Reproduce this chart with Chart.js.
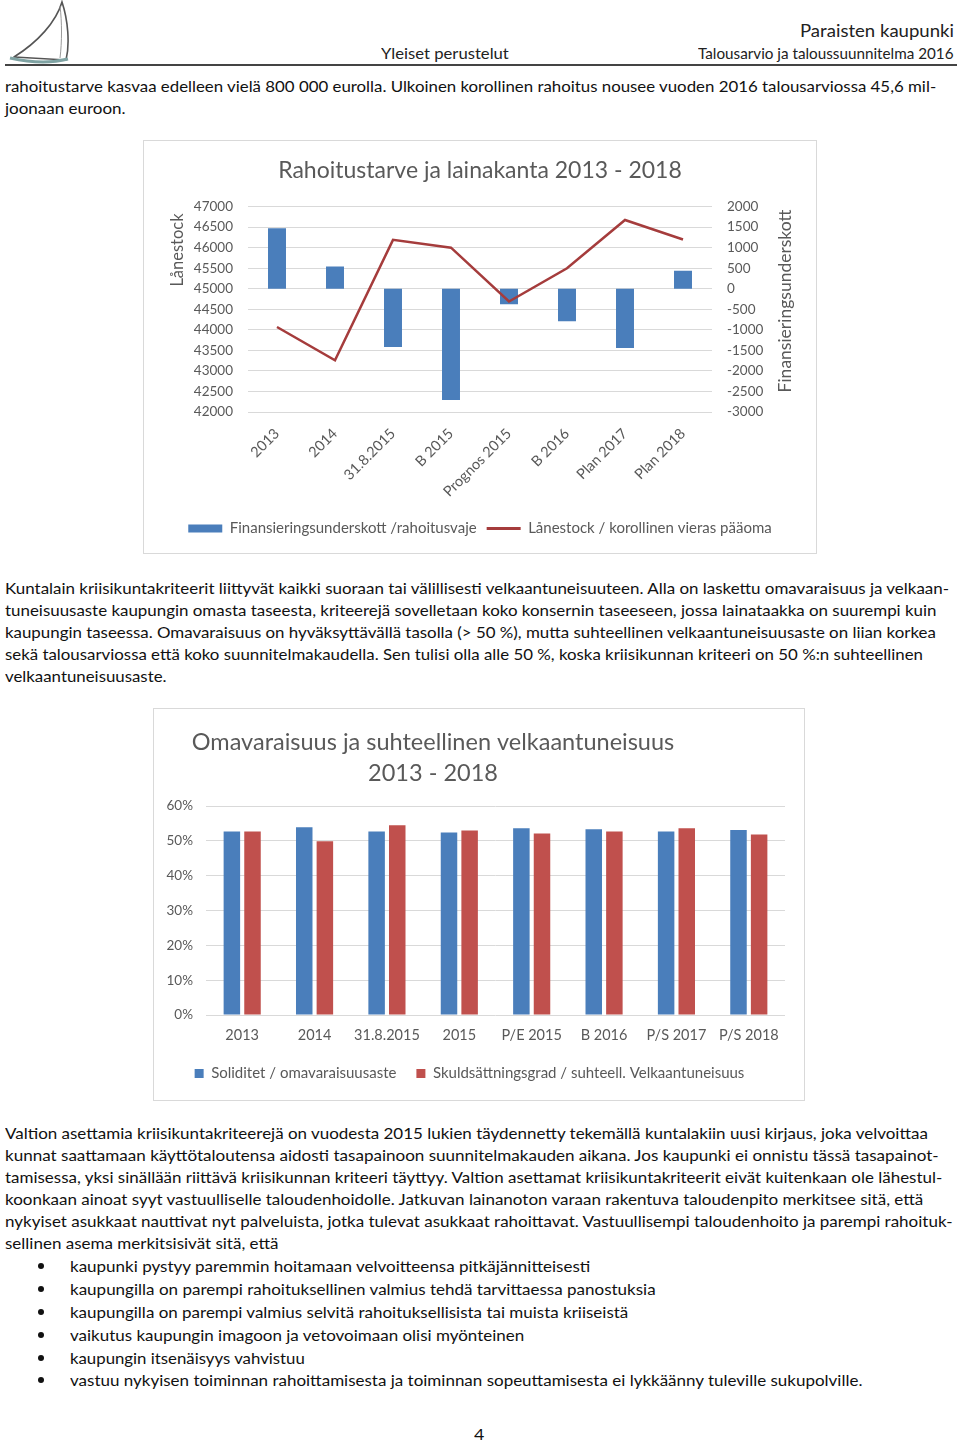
<!DOCTYPE html>
<html><head><meta charset="utf-8">
<script src="https://cdn.jsdelivr.net/npm/chart.js@4.4.0/dist/chart.umd.min.js"></script>
<style>
html,body{margin:0;padding:0;background:#fff;}
body{width:960px;height:1443px;position:relative;overflow:hidden;font-family:Lato,"Open Sans",sans-serif;color:#111;}
.t{position:absolute;white-space:nowrap;font-size:16px;line-height:22px;transform-origin:0 50%;}
.h{color:#222;}
.frame{position:absolute;border:1px solid #d9d9d9;box-sizing:border-box;background:#fff;}
.frame canvas{display:block;}
.bul{position:absolute;width:6px;height:6px;border-radius:50%;background:#111;}
#rule{position:absolute;left:5px;top:64px;width:952px;height:2px;background:#444;}
</style></head><body>

<svg style="position:absolute;left:4px;top:0" width="66" height="66" viewBox="0 0 66 66">
  <path d="M58,2 C52,22 34,42 10,57 C28,58 46,59 62,60 C66,44 64,20 58,2 Z" fill="#fff" stroke="#555" stroke-width="1.6"/>
  <path d="M56,6 C58,22 58,42 56,58" fill="none" stroke="#999" stroke-width="1"/>
  <path d="M6,58 C24,62 44,64 64,59" fill="none" stroke="#7fa3a3" stroke-width="3"/>
</svg>

<div class="t h" data-l="800" data-r="954" data-y="31" style="font-size:17px">Paraisten kaupunki</div>
<div class="t h" data-l="381" data-r="509" data-y="53">Yleiset perustelut</div>
<div class="t h" data-l="698" data-r="954" data-y="53" style="font-size:15px">Talousarvio ja taloussuunnitelma 2016</div>
<div id="rule"></div>

<div class="t" data-l="5" data-r="936" data-y="86">rahoitustarve kasvaa edelleen vielä 800 000 eurolla. Ulkoinen korollinen rahoitus nousee vuoden 2016 talousarviossa 45,6 mil-</div>
<div class="t" data-l="5" data-r="126" data-y="108">joonaan euroon.</div>

<div class="frame" style="left:143px;top:140px;width:674px;height:414px;"><canvas id="c1" width="672" height="412"></canvas></div>

<div class="t" data-l="5" data-r="949" data-y="588">Kuntalain kriisikuntakriteerit liittyvät kaikki suoraan tai välillisesti velkaantuneisuuteen. Alla on laskettu omavaraisuus ja velkaan-</div>
<div class="t" data-l="5" data-r="937" data-y="610">tuneisuusaste kaupungin omasta taseesta, kriteerejä sovelletaan koko konsernin taseeseen, jossa lainataakka on suurempi kuin</div>
<div class="t" data-l="5" data-r="936" data-y="632">kaupungin taseessa. Omavaraisuus on hyväksyttävällä tasolla (&gt; 50 %), mutta suhteellinen velkaantuneisuusaste on liian korkea</div>
<div class="t" data-l="5" data-r="923" data-y="654">sekä talousarviossa että koko suunnitelmakaudella. Sen tulisi olla alle 50 %, koska kriisikunnan kriteeri on 50 %:n suhteellinen</div>
<div class="t" data-l="5" data-r="166" data-y="676">velkaantuneisuusaste.</div>

<div class="frame" style="left:153px;top:708px;width:652px;height:393px;"><canvas id="c2" width="650" height="391"></canvas></div>

<div class="t" data-l="5" data-r="928" data-y="1133">Valtion asettamia kriisikuntakriteerejä on vuodesta 2015 lukien täydennetty tekemällä kuntalakiin uusi kirjaus, joka velvoittaa</div>
<div class="t" data-l="5" data-r="939" data-y="1155">kunnat saattamaan käyttötaloutensa aidosti tasapainoon suunnitelmakauden aikana. Jos kaupunki ei onnistu tässä tasapainot-</div>
<div class="t" data-l="5" data-r="942" data-y="1177">tamisessa, yksi sinällään riittävä kriisikunnan kriteeri täyttyy. Valtion asettamat kriisikuntakriteerit eivät kuitenkaan ole lähestul-</div>
<div class="t" data-l="5" data-r="923" data-y="1199">koonkaan ainoat syyt vastuulliselle taloudenhoidolle. Jatkuvan lainanoton varaan rakentuva taloudenpito merkitsee sitä, että</div>
<div class="t" data-l="5" data-r="952" data-y="1221">nykyiset asukkaat nauttivat nyt palveluista, jotka tulevat asukkaat rahoittavat. Vastuullisempi taloudenhoito ja parempi rahoituk-</div>
<div class="t" data-l="5" data-r="279" data-y="1243">sellinen asema merkitsisivät sitä, että</div>

<div class="bul" style="left:38px;top:1263px"></div>
<div class="t" data-l="70" data-r="590" data-y="1266">kaupunki pystyy paremmin hoitamaan velvoitteensa pitkäjännitteisesti</div>
<div class="bul" style="left:38px;top:1286px"></div>
<div class="t" data-l="70" data-r="656" data-y="1289">kaupungilla on parempi rahoituksellinen valmius tehdä tarvittaessa panostuksia</div>
<div class="bul" style="left:38px;top:1309px"></div>
<div class="t" data-l="70" data-r="628" data-y="1312">kaupungilla on parempi valmius selvitä rahoituksellisista tai muista kriiseistä</div>
<div class="bul" style="left:38px;top:1332px"></div>
<div class="t" data-l="70" data-r="524" data-y="1335">vaikutus kaupungin imagoon ja vetovoimaan olisi myönteinen</div>
<div class="bul" style="left:38px;top:1355px"></div>
<div class="t" data-l="70" data-r="305" data-y="1358">kaupungin itsenäisyys vahvistuu</div>
<div class="bul" style="left:38px;top:1377px"></div>
<div class="t" data-l="70" data-r="862" data-y="1380">vastuu nykyisen toiminnan rahoittamisesta ja toiminnan sopeuttamisesta ei lykkäänny tuleville sukupolville.</div>

<div class="t" data-l="474" data-r="484" data-y="1434">4</div>

<script>
// ---------- Chart 1 data ----------
const categories1 = ['2013','2014','31.8.2015','B 2015','Prognos 2015','B 2016','Plan 2017','Plan 2018'];
const deficit = [1470, 540, -1420, -2710, -380, -790, -1440, 440];
const loanStock = [44070, 43260, 46190, 46000, 44690, 45500, 46675, 46200];
const leftTicks = {min: 42000, max: 47000, step: 500};
const rightTicks = {min: -3000, max: 2000, step: 500};

// ---------- Chart 2 data ----------
const categories2 = ['2013','2014','31.8.2015','2015','P/E 2015','B 2016','P/S 2017','P/S 2018'];
const solidity = [52.7, 53.9, 52.7, 52.4, 53.6, 53.3, 52.7, 53.1];
const debtRatio = [52.7, 49.9, 54.5, 53.0, 52.1, 52.7, 53.6, 51.8];
const pctTicks = {min: 0, max: 60, step: 10};

const GRAY = '#595959', GRID = '#d9d9d9', BLUE = '#4a7ebb', RED = '#c0504d', LINE = '#a53c3c';

function fitText(){
  document.querySelectorAll('.t').forEach(el=>{
    const l=+el.dataset.l, r=+el.dataset.r, y=+el.dataset.y;
    el.style.left=l+'px'; el.style.top=(y-11)+'px';
    const w=el.scrollWidth;
    el.style.transform='scaleX('+((r-l)/w)+')';
  });
}

function draw(){
  Chart.defaults.font.family = 'Lato, "Open Sans", sans-serif';
  Chart.defaults.color = GRAY;

  const axisTitles1 = {id:'axisTitles1', afterDraw(chart){
    const ctx = chart.ctx; ctx.save();
    ctx.fillStyle = GRAY; ctx.font = '16.5px Lato'; ctx.textAlign='center'; ctx.textBaseline='middle';
    ctx.translate(34,109); ctx.rotate(-Math.PI/2); ctx.fillText('Lånestock',0,0); ctx.restore();
    ctx.save(); ctx.fillStyle = GRAY; ctx.font = '17.5px Lato'; ctx.textAlign='center'; ctx.textBaseline='middle';
    ctx.translate(641,160); ctx.rotate(-Math.PI/2); ctx.fillText('Finansieringsunderskott',0,0); ctx.restore();
  }};

  const pad1 = 7;
  new Chart(document.getElementById('c1'), {
    data: { labels: categories1, datasets: [
      {type:'bar', label:'Finansieringsunderskott /rahoitusvaje', data: deficit, yAxisID:'y1',
       backgroundColor: BLUE, order:1, barPercentage:0.31, categoryPercentage:1},
      {type:'line', label:'Lånestock / korollinen vieras pääoma', data: loanStock, yAxisID:'y',
       borderColor: LINE, backgroundColor: LINE, borderWidth:2.5, pointRadius:0, order:0, tension:0}
    ]},
    options: {
      responsive:false, animation:false,
      layout:{padding:{top:0,left:0,right:0,bottom:pad1}},
      scales:{
        x:{grid:{display:false, drawTicks:false}, border:{display:false},
           ticks:{minRotation:45, maxRotation:45, padding:13, color:GRAY, font:{size:14.5}, autoSkip:false},
           afterFit(s){ s.height = 412 - 271 - s.chart.legend.height - pad1; }},
        y:{position:'left', min:leftTicks.min, max:leftTicks.max,
           ticks:{stepSize:leftTicks.step, padding:15, color:GRAY, font:{size:13.5}, callback:v=>String(v)},
           grid:{color:GRID, drawTicks:false}, border:{display:false},
           afterFit(s){ s.width = 104; }},
        y1:{position:'right', min:rightTicks.min, max:rightTicks.max,
           ticks:{stepSize:rightTicks.step, padding:15, color:GRAY, font:{size:13.5}, callback:v=>String(v)},
           grid:{display:false, drawTicks:false}, border:{display:false},
           afterFit(s){ s.width = 104; }}
      },
      plugins:{
        title:{display:true, text:'Rahoitustarve ja lainakanta 2013 - 2018', color:GRAY,
               font:{size:23, weight:'normal'}, padding:{top:16, bottom:22}},
        legend:{position:'bottom', labels:{
          usePointStyle:true, pointStyleWidth:34, boxHeight:8, padding:10, color:GRAY, font:{size:15},
          sort:(a,b)=>a.datasetIndex-b.datasetIndex,
          generateLabels(chart){
            const items = Chart.defaults.plugins.legend.labels.generateLabels(chart);
            items.forEach(it=>{
              if(it.datasetIndex===0){ it.pointStyle='rect'; it.lineWidth=0; it.fillStyle=BLUE; it.strokeStyle=BLUE; }
              else { it.pointStyle='line'; it.lineWidth=3; it.strokeStyle=LINE; it.fillStyle=LINE; }
            });
            return items;
          }}},
        tooltip:{enabled:false}
      }
    },
    plugins:[axisTitles1]
  });

  const title2 = {id:'title2', afterDraw(chart){
    const ctx = chart.ctx; ctx.save();
    ctx.fillStyle = GRAY; ctx.font = '23.5px Lato'; ctx.textAlign='center'; ctx.textBaseline='middle';
    ctx.fillText('Omavaraisuus ja suhteellinen velkaantuneisuus', 279, 33);
    ctx.fillText('2013 - 2018', 279, 64);
    ctx.restore();
  }};

  const pad2 = 9;
  new Chart(document.getElementById('c2'), {
    type:'bar',
    data:{labels: categories2, datasets:[
      {label:'Soliditet / omavaraisuusaste', data: solidity, backgroundColor: BLUE, categoryPercentage:0.57, barPercentage:0.8},
      {label:'Skuldsättningsgrad / suhteell. Velkaantuneisuus', data: debtRatio, backgroundColor: RED, categoryPercentage:0.57, barPercentage:0.8}
    ]},
    options:{
      responsive:false, animation:false,
      layout:{padding:{top:97, left:0, right:19, bottom:pad2}},
      scales:{
        x:{grid:{display:false, drawTicks:false}, border:{display:false},
           ticks:{maxRotation:0, padding:12, color:GRAY, font:{size:14.5}, autoSkip:false},
           afterFit(s){ s.height = 391 - 306 - s.chart.legend.height - pad2; }},
        y:{min:pctTicks.min, max:pctTicks.max,
           ticks:{stepSize:pctTicks.step, padding:13, color:GRAY, font:{size:13.5}, callback:v=>v+'%'},
           grid:{color:GRID, drawTicks:false}, border:{display:false},
           afterFit(s){ s.width = 52; }}
      },
      plugins:{
        legend:{position:'bottom', labels:{boxWidth:9, boxHeight:9, padding:20, color:GRAY, font:{size:15}}},
        tooltip:{enabled:false}
      }
    },
    plugins:[title2]
  });
}

(document.fonts && document.fonts.ready ? document.fonts.ready : Promise.resolve()).then(()=>{ fitText(); draw(); });
</script>
</body></html>
